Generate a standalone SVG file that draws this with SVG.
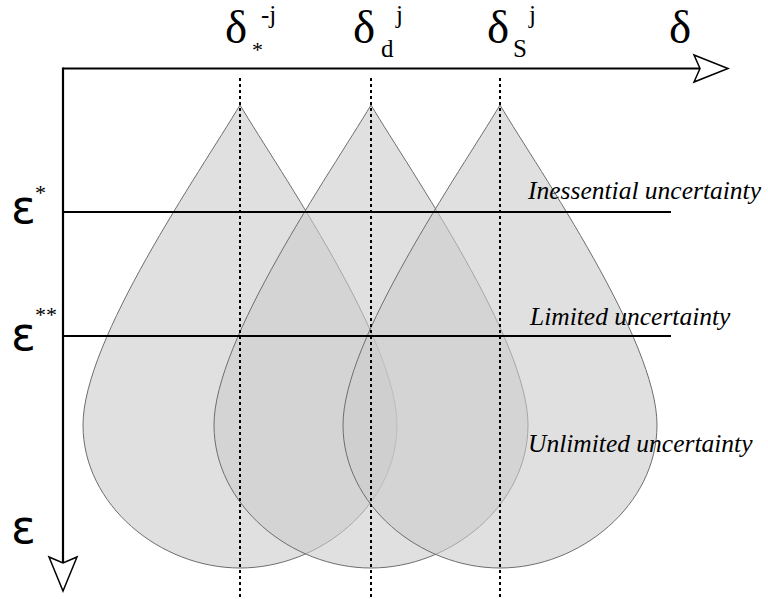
<svg xmlns="http://www.w3.org/2000/svg" width="768" height="599" viewBox="0 0 768 599">
<style>
.drop{fill:#cccccc;fill-opacity:0.6;stroke:#6e6e6e;stroke-width:1}
.axis{stroke:#000;stroke-width:2.2;fill:none}
.lvl{stroke:#000;stroke-width:2.2}
.dot{stroke:#000;stroke-width:2;stroke-dasharray:3,3}
.head{fill:#fff;stroke:#000;stroke-width:1.5;stroke-linejoin:miter}
.big{font-family:'Liberation Serif',serif;font-size:47px;fill:#000}
.idx{font-family:'Liberation Serif',serif;font-size:25px;fill:#000}
.eps{font-family:'DejaVu Sans',sans-serif;font-size:46px;fill:#000}
.star{font-family:'Liberation Serif',serif;font-size:22px;fill:#000}
.lab{font-family:'Liberation Serif',serif;font-style:italic;font-size:25.5px;fill:#000}
</style>
<defs>
<path id="drop" d="M0,0 C40,67 157,235 157,320 C157,400 80,463 0,463 C-80,463 -157,400 -157,320 C-157,235 -40,67 0,0 Z"/>
</defs>
<g id="drop1"><use href="#drop" class="drop" transform="translate(240,105)"/></g>
<g id="drop2"><use href="#drop" class="drop" transform="translate(371,105)"/></g>
<g id="drop3"><use href="#drop" class="drop" transform="translate(500,105)"/></g>
<g id="connectors">
<line class="dot" x1="240" y1="78" x2="240" y2="599"/>
<line class="dot" x1="371" y1="78" x2="371" y2="599"/>
<line class="dot" x1="500" y1="78" x2="500" y2="599"/>
<line class="lvl" x1="63" y1="212" x2="671" y2="212"/>
<line class="lvl" x1="63" y1="336" x2="671" y2="336"/>
<line class="axis" x1="63" y1="68.5" x2="700" y2="68.5"/>
<line class="axis" x1="63" y1="67.5" x2="63" y2="563"/>
<polygon class="head" points="694,55 728,68.5 694,82 700,68.5"/>
<polygon class="head" points="49,557 63,591 77,557 63,563"/>
</g>
<g id="labels">
<text class="big" x="669" y="43">δ</text>
<text class="big" x="225" y="43">δ</text>
<text class="star" x="252" y="57">*</text>
<text class="idx" x="261" y="23">-j</text>
<text class="big" x="353" y="43">δ</text>
<text class="idx" x="381" y="57">d</text>
<text class="idx" x="396" y="23">j</text>
<text class="big" x="487" y="43">δ</text>
<text class="idx" x="513" y="57">S</text>
<text class="idx" x="529" y="23">j</text>
<text class="eps" x="11" y="223">ε</text>
<text class="star" x="35" y="200">*</text>
<text class="eps" x="11" y="350">ε</text>
<text class="star" x="35" y="322">**</text>
<text class="eps" x="11" y="543">ε</text>
<text class="lab" x="528" y="199">Inessential uncertainty</text>
<text class="lab" x="530" y="325">Limited uncertainty</text>
<text class="lab" x="528" y="452">Unlimited uncertainty</text>
</g>
</svg>
